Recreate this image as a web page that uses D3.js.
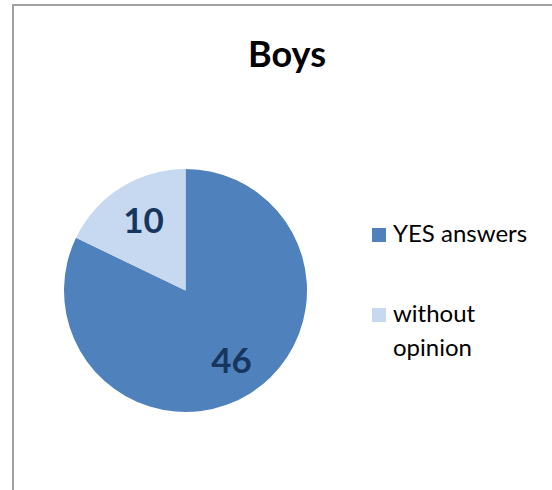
<!DOCTYPE html>
<html>
<head>
<meta charset="utf-8">
<script src="https://cdn.jsdelivr.net/npm/d3@7"></script>
<style>
  html, body { margin: 0; padding: 0; background: #fff; }
  svg { display: block; }
  text { font-family: Lato, "Open Sans", sans-serif; }
</style>
</head>
<body>
<svg id="chart" width="552" height="490"></svg>
<script>
// Survey answers of the boys
const categories = ["YES answers", "without opinion"];
const values = [46, 10];
const colors = ["#4F81BD", "#C6D9F1"];
const title = "Boys";

const svg = d3.select("#chart");

// chart frame (top and left edges fall inside the view)
svg.append("rect")
  .attr("x", 13).attr("y", 5)
  .attr("width", 600).attr("height", 600)
  .attr("fill", "#fff")
  .attr("stroke", "#a0a0a0")
  .attr("stroke-width", 2);

// title
svg.append("text")
  .attr("x", 287).attr("y", 67)
  .attr("text-anchor", "middle")
  .attr("font-size", 36)
  .attr("font-weight", "bold")
  .attr("fill", "#000")
  .text(title);

// pie
const cx = 185.5, cy = 290.5, R = 121.5;
const pie = d3.pie().sort(null).value(d => d.value).startAngle(0).endAngle(2 * Math.PI);
const data = categories.map((c, i) => ({ name: c, value: values[i], color: colors[i] }));
const arcs = pie(data);
const arc = d3.arc().innerRadius(0).outerRadius(R);
const labelArc = d3.arc().innerRadius(R * 0.68).outerRadius(R * 0.68);

const g = svg.append("g").attr("transform", `translate(${cx},${cy})`);
g.selectAll("path.slice")
  .data(arcs)
  .join("path")
  .attr("class", "slice")
  .attr("d", arc)
  .attr("fill", d => d.data.color);

g.selectAll("text.val")
  .data(arcs)
  .join("text")
  .attr("class", "val")
  .attr("transform", d => {
    const [x, y] = labelArc.centroid(d);
    return `translate(${x + 2},${y})`;
  })
  .attr("text-anchor", "middle")
  .attr("dy", "0.36em")
  .attr("font-size", 35)
  .attr("font-weight", "bold")
  .attr("fill", "#17365D")
  .text(d => d.data.value);

// legend
const legendItems = [
  { lines: ["YES answers"], y: 228 },
  { lines: ["without", "opinion"], y: 308 }
];
const lg = svg.append("g");
legendItems.forEach((it, i) => {
  lg.append("rect")
    .attr("x", 372).attr("y", it.y)
    .attr("width", 14).attr("height", 14)
    .attr("fill", colors[i]);
  const t = lg.append("text")
    .attr("x", 393).attr("y", it.y + 14)
    .attr("font-size", 24)
    .attr("fill", "#000");
  it.lines.forEach((ln, j) => {
    t.append("tspan").attr("x", 393).attr("dy", j === 0 ? 0 : 34).text(ln);
  });
});
</script>
</body>
</html>
